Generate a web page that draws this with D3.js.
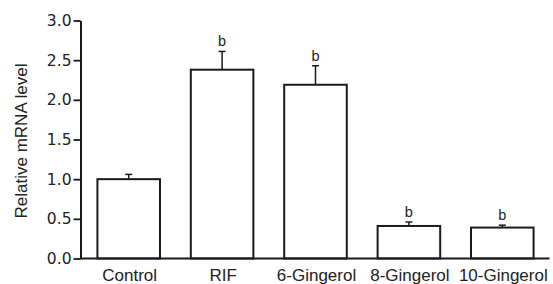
<!DOCTYPE html>
<html>
<head>
<meta charset="utf-8">
<script src="https://cdn.jsdelivr.net/npm/d3@7"></script>
<style>
  html, body { margin: 0; padding: 0; background: #fff; }
  svg { display: block; }
</style>
</head>
<body>
<div id="chart"></div>
<script>
// data
const groups = ['Control', 'RIF', '6-Gingerol', '8-Gingerol', '10-Gingerol'];
const means = [1.00, 2.38, 2.19, 0.41, 0.39];
const errors = [0.06, 0.23, 0.24, 0.05, 0.03];
const marks = ['', 'b', 'b', 'b', 'b'];
const yTicks = [0, 0.5, 1.0, 1.5, 2.0, 2.5, 3.0];

const width = 553, height = 284;
const ink = '#1a1a1a';

const svg = d3.select('#chart').append('svg')
    .attr('width', width)
    .attr('height', height);

const x = d3.scaleBand()
    .domain(groups)
    .range([82, 549])
    .paddingInner(0.33)
    .paddingOuter(0.165);

const y = d3.scaleLinear()
    .domain([0, 3])
    .range([258.5, 20.5]);

// y axis
const yAxis = svg.append('g')
    .attr('transform', 'translate(80.5,0)')
    .call(d3.axisLeft(y).tickValues(yTicks).tickFormat(d3.format('.1f')).tickSize(7).tickSizeOuter(0).tickPadding(2));
yAxis.select('.domain').attr('stroke', ink).attr('stroke-width', 2);
yAxis.selectAll('.tick line').attr('stroke', ink).attr('stroke-width', 1.8);
yAxis.selectAll('.tick text')
    .attr('fill', '#222')
    .style('font-family', '"DejaVu Sans", sans-serif')
    .style('font-size', '15.5px');

// bars
svg.append('g').selectAll('rect')
    .data(groups)
    .enter()
    .append('rect')
    .attr('x', d => x(d))
    .attr('y', (d, i) => y(means[i]))
    .attr('width', x.bandwidth())
    .attr('height', (d, i) => y(0) - y(means[i]))
    .attr('fill', '#fff')
    .attr('stroke', ink)
    .attr('stroke-width', 2);

// error bars
const err = svg.append('g').attr('stroke', ink).attr('stroke-width', 1.5);
groups.forEach((g, i) => {
    const cx = x(g) + x.bandwidth() / 2;
    err.append('line')
        .attr('x1', cx).attr('x2', cx)
        .attr('y1', y(means[i])).attr('y2', y(means[i] + errors[i]));
    err.append('line')
        .attr('x1', cx - 3.5).attr('x2', cx + 3.5)
        .attr('y1', y(means[i] + errors[i])).attr('y2', y(means[i] + errors[i]));
});

// significance letters
svg.append('g').selectAll('text')
    .data(groups)
    .enter()
    .append('text')
    .attr('x', d => x(d) + x.bandwidth() / 2)
    .attr('y', (d, i) => y(means[i] + errors[i]) - 5)
    .attr('text-anchor', 'middle')
    .attr('fill', '#222')
    .style('font-family', '"Liberation Sans", Arial, sans-serif')
    .style('font-size', '14.5px')
    .text((d, i) => marks[i]);

// x axis line
svg.append('line')
    .attr('x1', 80).attr('x2', 549.5)
    .attr('y1', y(0)).attr('y2', y(0))
    .attr('stroke', ink)
    .attr('stroke-width', 2);

// category labels
svg.append('g').selectAll('text')
    .data(groups)
    .enter()
    .append('text')
    .attr('x', d => x(d) + x.bandwidth() / 2 + 1)
    .attr('y', 280.5)
    .attr('text-anchor', 'middle')
    .attr('fill', '#222')
    .style('font-family', '"Liberation Sans", Arial, sans-serif')
    .style('font-size', '17px')
    .text(d => d);

// y label
svg.append('text')
    .attr('transform', 'translate(26.5,141) rotate(-90)')
    .attr('text-anchor', 'middle')
    .attr('fill', '#222')
    .style('font-family', '"Liberation Sans", Arial, sans-serif')
    .style('font-size', '17px')
    .text('Relative mRNA level');
</script>
</body>
</html>
